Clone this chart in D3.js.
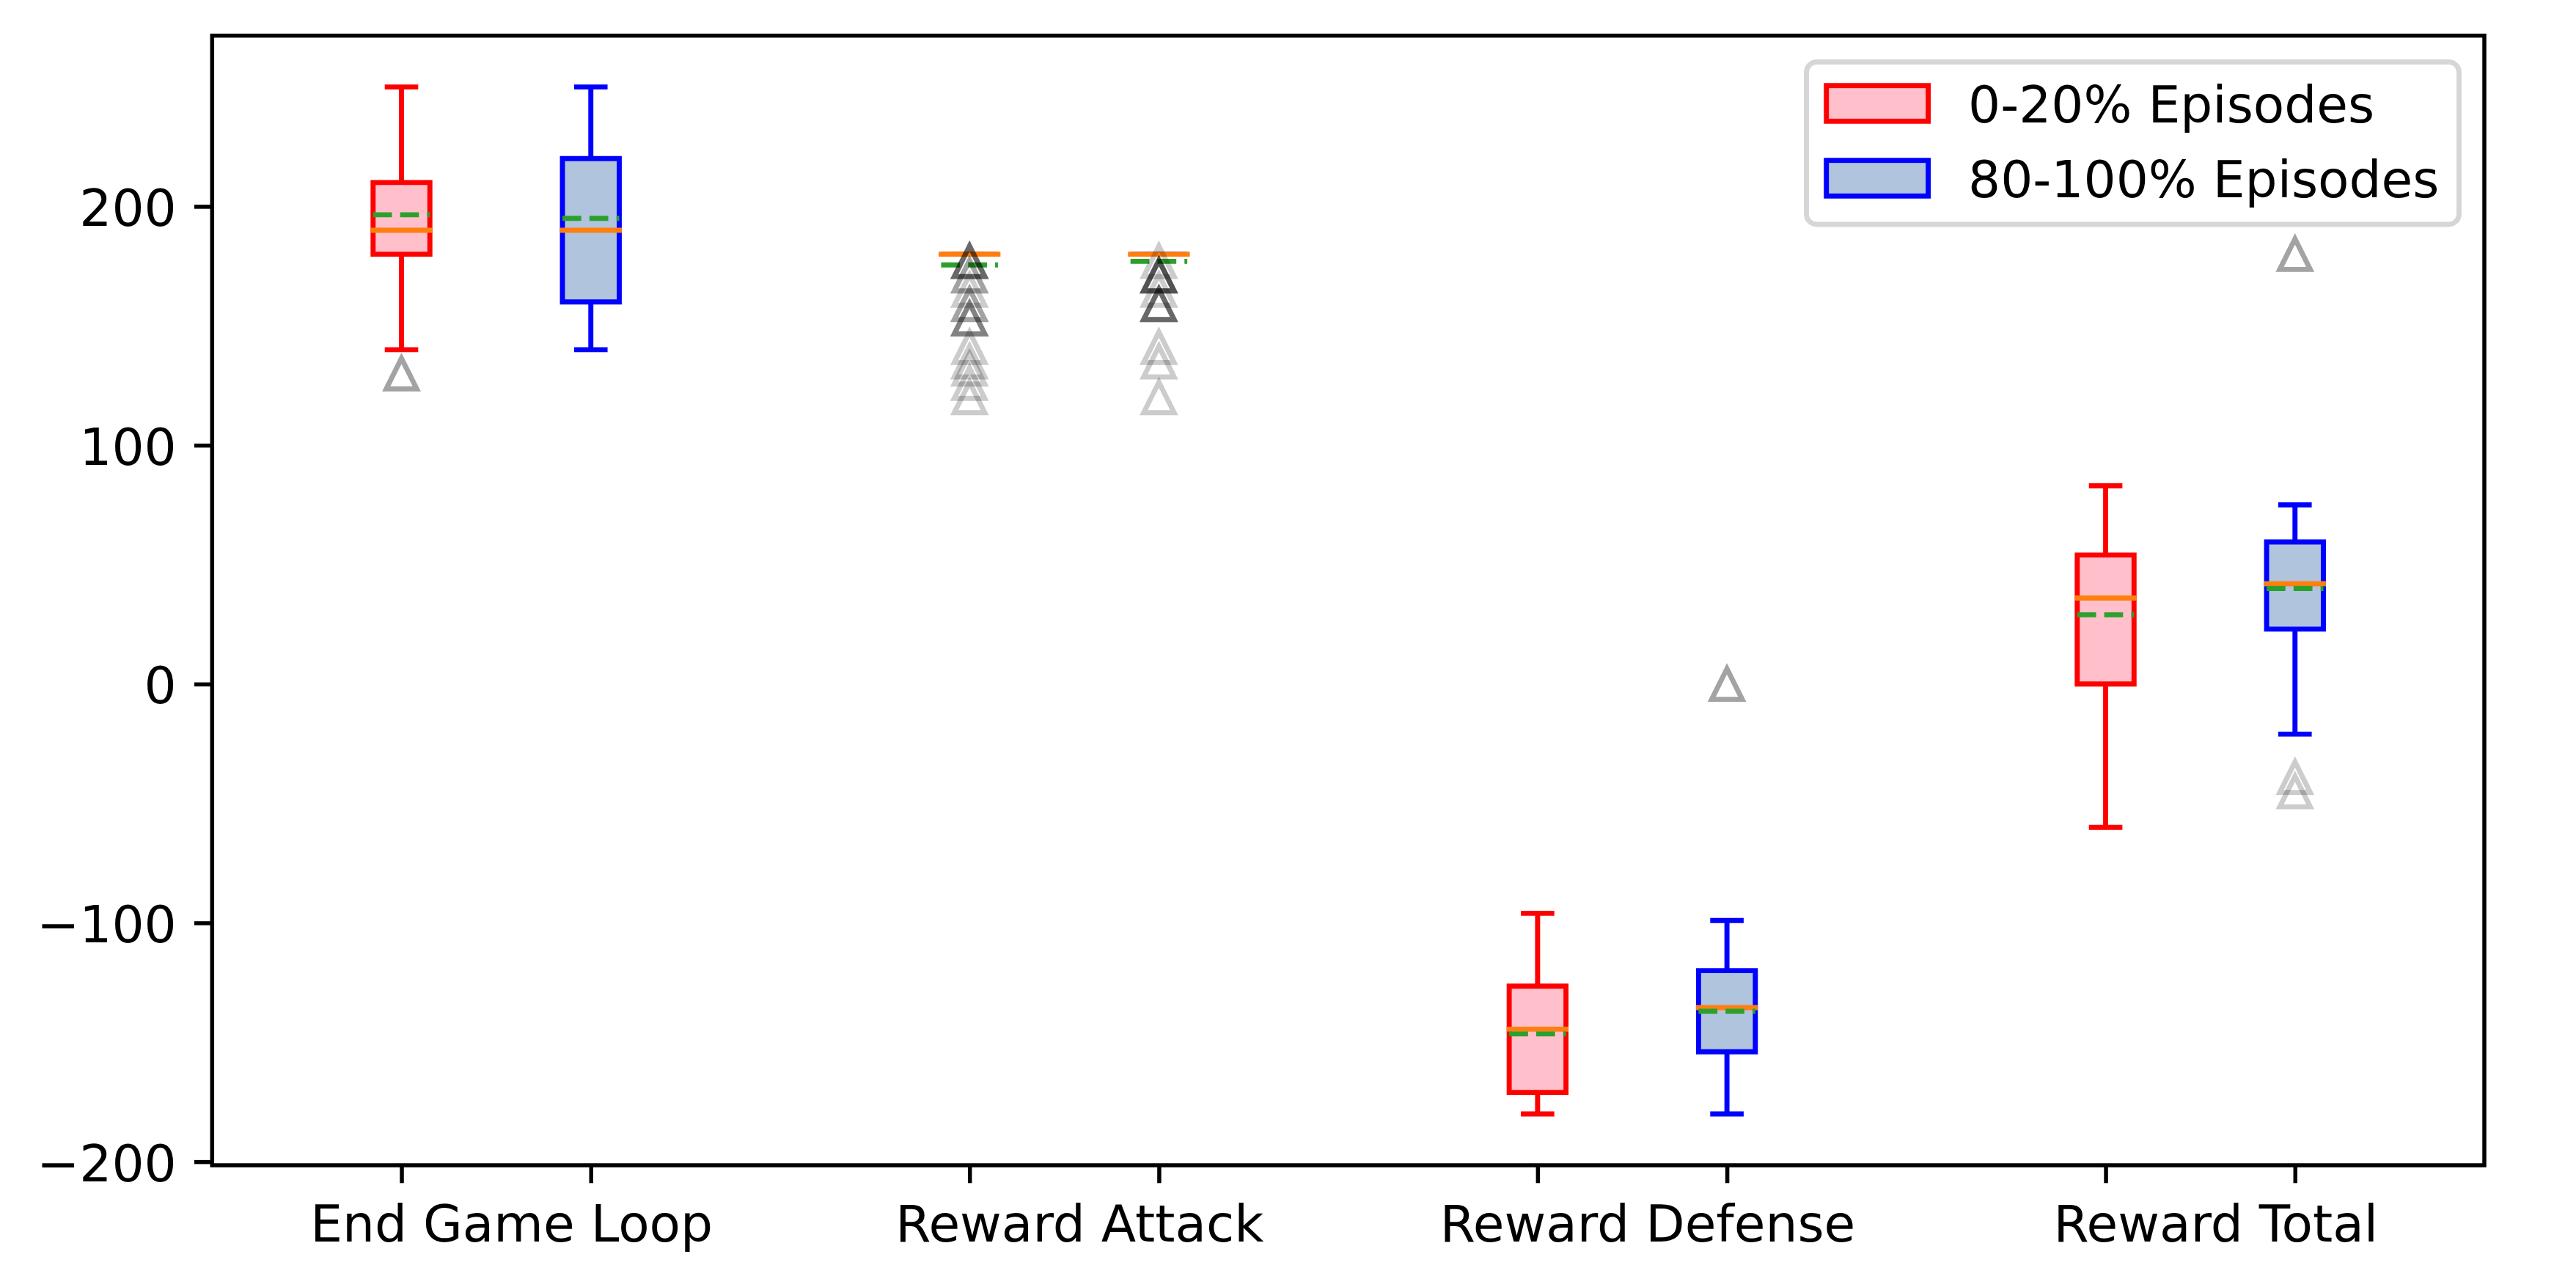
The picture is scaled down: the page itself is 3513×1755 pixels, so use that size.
<!DOCTYPE html>
<html>
<head>
<meta charset="utf-8">
<script src="https://cdn.jsdelivr.net/npm/d3@7"></script>
<style>
  html, body { margin: 0; padding: 0; background: #ffffff; }
  svg { display: block; }
  text { font-family: "DejaVu Sans", sans-serif; }
</style>
</head>
<body>
<svg id="chart" width="3513" height="1755"></svg>
<script>
// ---------------- DATA ----------------
const categories = ["End Game Loop", "Reward Attack", "Reward Defense", "Reward Total"];
const seriesNames = ["0-20% Episodes", "80-100% Episodes"];
const yTickValues = [-200, -100, 0, 100, 200];

// 0-20% Episodes
const earlyWhiskerLow  = [140, 180, -180, -60];
const earlyQ1          = [180, 180, -171, 0];
const earlyMedian      = [190, 180, -144.5, 36];
const earlyQ3          = [210, 180, -126.5, 54];
const earlyWhiskerHigh = [250, 180, -96, 83];
const earlyMean        = [196.5, 175.5, -146.5, 29];
const earlyOutliers    = [
  [130, 130],
  [177, 177, 177, 177, 171, 171, 165, 159, 159, 153, 153, 153, 141, 135, 132, 126, 120],
  [],
  []
];

// 80-100% Episodes
const lateWhiskerLow  = [140, 180, -180, -21];
const lateQ1          = [160, 180, -154, 23];
const lateMedian      = [190, 180, -135.5, 42];
const lateQ3          = [220, 180, -120, 59.5];
const lateWhiskerHigh = [250, 180, -99, 75];
const lateMean        = [195, 177, -137, 40];
const lateOutliers    = [
  [],
  [177, 171, 171, 171, 171, 171, 165, 159, 159, 159, 159, 141, 135, 120],
  [0, 0],
  [180, 180, -39, -45]
];

// ---------------- STYLE / LAYOUT ----------------
const W = 3513, H = 1755;
const plot = { left: 289.3, right: 3388, top: 48.6, bottom: 1589 };
const fontPx = 69.4;
const lw = 6.9;
const spineW = 5.5;
const tickLen = 24.3, tickPad = 24.3;
const boxWidth = 0.3;
const labelShift = 20.5;
const styles = [
  { stroke: "#ff0000", fill: "#ffc0cb" },
  { stroke: "#0000ff", fill: "#b0c4de" }
];
const medianColor = "#ff7f0e";
const meanColor = "#2ca02c";

const series = [
  { name: seriesNames[0], lo: earlyWhiskerLow, q1: earlyQ1, med: earlyMedian, q3: earlyQ3, hi: earlyWhiskerHigh, mean: earlyMean, out: earlyOutliers },
  { name: seriesNames[1], lo: lateWhiskerLow, q1: lateQ1, med: lateMedian, q3: lateQ3, hi: lateWhiskerHigh, mean: lateMean, out: lateOutliers }
];

const svg = d3.select("#chart");
svg.append("rect").attr("width", W).attr("height", H).attr("fill", "#fff");

const x = d3.scaleLinear().domain([0, 12]).range([plot.left, plot.right]);
const y = d3.scaleLinear().domain([-201.5, 271.5]).range([plot.bottom, plot.top]);
const pos = (ci, si) => 3 * ci + 1 + si;
const groupCenter = ci => 3 * ci + 1.5;

const g = svg.append("g");

series.forEach((s, si) => {
  const st = styles[si];
  categories.forEach((c, ci) => {
    const p = pos(ci, si);
    const cx = x(p);
    const x0 = x(p - boxWidth / 2), x1 = x(p + boxWidth / 2);
    const capX0 = x(p - boxWidth / 4), capX1 = x(p + boxWidth / 4);
    const bg = g.append("g");
    bg.append("line").attr("x1", cx).attr("x2", cx).attr("y1", y(s.q3[ci])).attr("y2", y(s.hi[ci]))
      .attr("stroke", st.stroke).attr("stroke-width", lw);
    bg.append("line").attr("x1", cx).attr("x2", cx).attr("y1", y(s.q1[ci])).attr("y2", y(s.lo[ci]))
      .attr("stroke", st.stroke).attr("stroke-width", lw);
    [s.hi[ci], s.lo[ci]].forEach(v => {
      bg.append("line").attr("x1", capX0).attr("x2", capX1).attr("y1", y(v)).attr("y2", y(v))
        .attr("stroke", st.stroke).attr("stroke-width", lw).attr("stroke-linecap", "square");
    });
    bg.append("path")
      .attr("d", `M${x0},${y(s.q1[ci])}L${x1},${y(s.q1[ci])}L${x1},${y(s.q3[ci])}L${x0},${y(s.q3[ci])}Z`)
      .attr("fill", st.fill).attr("stroke", st.stroke).attr("stroke-width", lw)
      .attr("stroke-linejoin", "miter");
    bg.append("line").attr("x1", x0).attr("x2", x1).attr("y1", y(s.med[ci])).attr("y2", y(s.med[ci]))
      .attr("stroke", medianColor).attr("stroke-width", lw).attr("stroke-linecap", "square");
    bg.append("line").attr("x1", x0).attr("x2", x1).attr("y1", y(s.mean[ci])).attr("y2", y(s.mean[ci]))
      .attr("stroke", meanColor).attr("stroke-width", lw).attr("stroke-dasharray", "25.7 11.1");
    const sz = 20.8;
    s.out[ci].forEach(v => {
      const cy = y(v);
      bg.append("path")
        .attr("d", `M${cx},${cy - sz}L${cx - sz},${cy + sz}L${cx + sz},${cy + sz}Z`)
        .attr("fill", "none").attr("stroke", "#000").attr("stroke-opacity", 0.2)
        .attr("stroke-width", lw).attr("stroke-linejoin", "miter");
    });
  });
});

// y axis
const yAxis = d3.axisLeft(y).tickValues(yTickValues).tickSize(tickLen).tickPadding(tickPad).tickSizeOuter(0)
  .tickFormat(d => d < 0 ? "\u2212" + Math.abs(d) : String(d));
const yg = svg.append("g").attr("transform", `translate(${plot.left},0)`).call(yAxis);
yg.select(".domain").remove();
yg.selectAll(".tick line").attr("stroke", "#000").attr("stroke-width", spineW);
yg.selectAll(".tick text").attr("font-size", fontPx).attr("fill", "#000")
  .attr("font-family", "DejaVu Sans").attr("dy", null).attr("y", 26).attr("x", -(tickLen + tickPad));

// x axis: ticks at every box position, labels near group centres
const boxPositions = [];
categories.forEach((c, ci) => series.forEach((s, si) => boxPositions.push(pos(ci, si))));
const xTicks = d3.axisBottom(x).tickValues(boxPositions).tickSize(tickLen).tickSizeOuter(0).tickFormat("");
const xg = svg.append("g").attr("transform", `translate(0,${plot.bottom})`).call(xTicks);
xg.select(".domain").remove();
xg.selectAll(".tick line").attr("stroke", "#000").attr("stroke-width", spineW);
xg.selectAll(".tick text").remove();

const xLabels = d3.axisBottom(x).tickValues(categories.map((c, i) => groupCenter(i)))
  .tickSize(0).tickSizeOuter(0).tickFormat((d, i) => categories[i]);
const xl = svg.append("g").attr("transform", `translate(0,${plot.bottom})`).call(xLabels);
xl.select(".domain").remove();
xl.selectAll(".tick line").remove();
xl.selectAll(".tick text").attr("font-size", fontPx).attr("fill", "#000")
  .attr("font-family", "DejaVu Sans").attr("dy", null)
  .attr("x", labelShift).attr("y", tickLen + tickPad + 55);

// spines
svg.append("rect").attr("x", plot.left).attr("y", plot.top)
  .attr("width", plot.right - plot.left).attr("height", plot.bottom - plot.top)
  .attr("fill", "none").attr("stroke", "#000").attr("stroke-width", spineW);

// legend
const leg = svg.append("g");
const legX0 = 2463.5, legX1 = 3353.5, legY0 = 84.5, legY1 = 306;
leg.append("rect").attr("x", legX0).attr("y", legY0).attr("width", legX1 - legX0).attr("height", legY1 - legY0)
  .attr("rx", 14).attr("ry", 14).attr("fill", "#fff").attr("fill-opacity", 0.8)
  .attr("stroke", "#cccccc").attr("stroke-opacity", 0.8).attr("stroke-width", lw);
const rowCenters = [141, 243];
series.forEach((s, si) => {
  const cy = rowCenters[si];
  leg.append("rect").attr("x", 2490.7).attr("y", cy - 24.3).attr("width", 138.9).attr("height", 48.6)
    .attr("fill", styles[si].fill).attr("stroke", styles[si].stroke).attr("stroke-width", lw);
  leg.append("text").attr("x", 2684).attr("y", cy + 26).attr("font-size", fontPx)
    .attr("fill", "#000").text(s.name);
});
</script>
</body>
</html>
